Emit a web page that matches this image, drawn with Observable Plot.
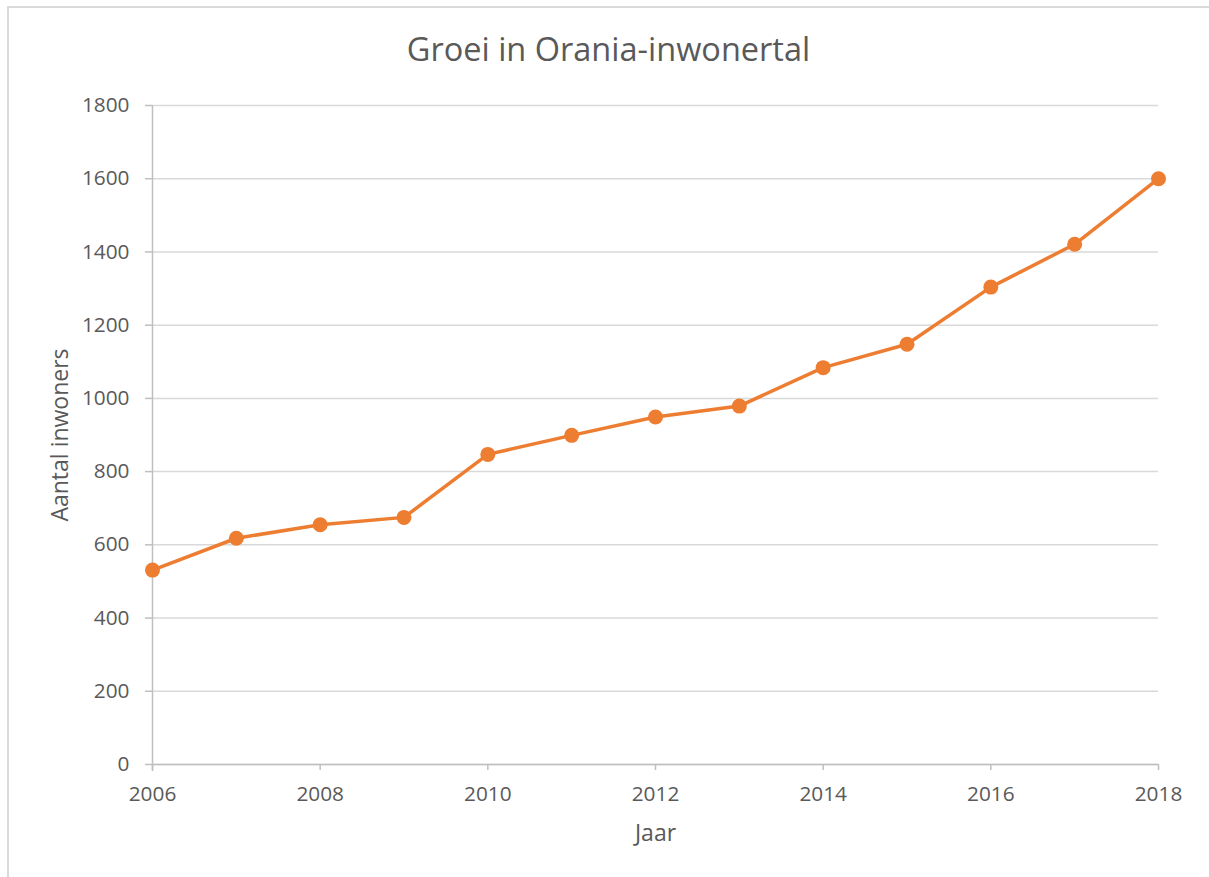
<!DOCTYPE html>
<html>
<head>
<meta charset="utf-8">
<script src="https://cdn.jsdelivr.net/npm/d3@7"></script>
<script src="https://cdn.jsdelivr.net/npm/@observablehq/plot@0.6"></script>
<style>
  html, body { margin: 0; padding: 0; background: #fff; overflow: hidden; }
  #wrap { position: relative; width: 1209px; height: 877px; overflow: hidden; font-family: "Open Sans", sans-serif; }
  #frame { position: absolute; left: 7px; top: 6px; width: 1400px; height: 1000px; border: 2px solid #d9d9d9; box-sizing: border-box; }
  #title { position: absolute; left: 0; width: 1217px; top: 29px; text-align: center; font-size: 32.5px; line-height: 1.2; color: #595959; }
  #chart { position: absolute; left: 0; top: 90px; }
</style>
</head>
<body>
<div id="wrap">
  <div id="frame"></div>
  <div id="title">Groei in Orania-inwonertal</div>
  <div id="chart"></div>
</div>
<script>
const years = [2006, 2007, 2008, 2009, 2010, 2011, 2012, 2013, 2014, 2015, 2016, 2017, 2018];
const inhabitants = [531, 618, 655, 675, 847, 899, 949, 979, 1084, 1148, 1304, 1421, 1600];
const xTicks = [2006, 2008, 2010, 2012, 2014, 2016, 2018];
const yTicks = [0, 200, 400, 600, 800, 1000, 1200, 1400, 1600, 1800];

const data = years.map((y, i) => ({year: y, value: inhabitants[i]}));
const axisColor = "#bfbfbf";
const textColor = "#595959";
const tickFont = 20.8;

const plot = Plot.plot({
  width: 1209,
  height: 787,
  marginLeft: 152,
  marginRight: 51,
  marginTop: 15,
  marginBottom: 113,
  style: {fontFamily: "'Open Sans', sans-serif", fontSize: "20.8px", color: textColor, background: "transparent"},
  x: {type: "linear", domain: [2006, 2018]},
  y: {domain: [0, 1800]},
  marks: [
    Plot.gridY(yTicks, {stroke: "#d9d9d9", strokeOpacity: 1, strokeWidth: 1.5}),
    Plot.ruleY([0], {stroke: axisColor, strokeWidth: 1.5, insetLeft: -7}),
    Plot.ruleX([2006], {stroke: axisColor, strokeWidth: 1.5, insetBottom: -7}),
    Plot.axisY(yTicks.slice(1), {stroke: axisColor, strokeWidth: 1.5, tickSize: 7, tickPadding: 16, tickFormat: "d", label: null, fill: textColor, fontSize: tickFont}),
    Plot.axisY([0], {stroke: null, tickSize: 7, tickPadding: 16, tickFormat: "d", label: null, fill: textColor, fontSize: tickFont}),
    Plot.axisX(xTicks, {stroke: axisColor, strokeWidth: 1.5, tickSize: 6, tickPadding: 16, tickFormat: "d", label: null, fill: textColor, fontSize: tickFont}),
    Plot.line(data, {x: "year", y: "value", stroke: "#ed7d31", strokeWidth: 3.5}),
    Plot.dot(data, {x: "year", y: "value", r: 7.5, fill: "#ed7d31", stroke: null}),
    Plot.text(["Jaar"], {frameAnchor: "bottom", dy: 69, fill: textColor, fontSize: 23, lineAnchor: "middle", textAnchor: "middle"}),
    Plot.text(["Aantal inwoners"], {frameAnchor: "left", dx: -92, rotate: -90, fill: textColor, fontSize: 23, lineAnchor: "middle", textAnchor: "middle"})
  ]
});
document.getElementById("chart").appendChild(plot);
</script>
</body>
</html>
